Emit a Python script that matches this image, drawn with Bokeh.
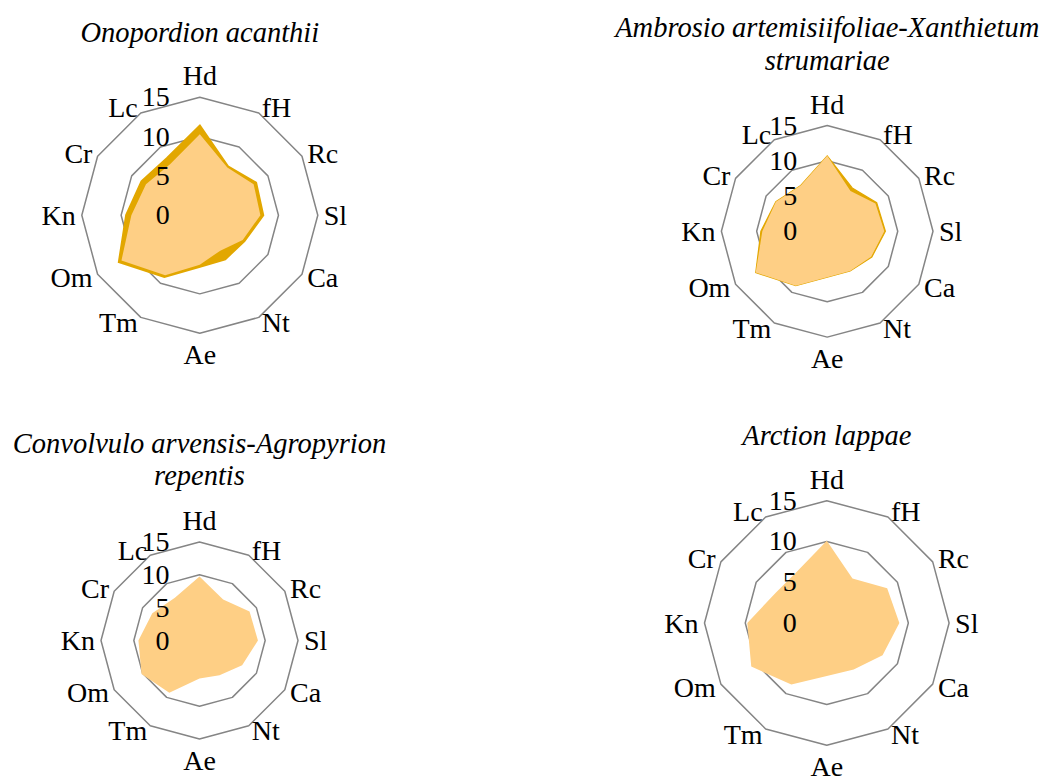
import numpy as np
from bokeh.plotting import figure
from bokeh.layouts import gridplot
from bokeh.models import Range1d
from bokeh.core.properties import value
from bokeh.embed import file_html
from bokeh.resources import INLINE

# ---------------- data ----------------
axis_labels = ["Hd", "fH", "Rc", "Sl", "Ca", "Nt", "Ae", "Tm", "Om", "Kn", "Cr", "Lc"]
tick_values = [0, 5, 10, 15]
tick_labels = ["0", "5", "10", "15"]
ring_values = [10, 15]
axis_max = 15

titles = [
    ["Onopordion acanthii"],
    ["Ambrosio artemisiifoliae-Xanthietum", "strumariae"],
    ["Convolvulo arvensis-Agropyrion", "repentis"],
    ["Arction lappae"],
]

# series drawn underneath (dark gold)
onopordion_dark = [11.3, 7.1, 8.2, 8.0, 6.5, 6.4, 6.5, 9.0, 11.8, 9.3, 8.5, 8.3]
ambrosio_dark = [10.7, 7.1, 8.1, 8.25, 7.3, 6.5, 6.5, 8.9, 11.7, 9.4, 8.4, 7.5]
# series drawn on top (light orange)
onopordion_light = [10.3, 7.0, 7.9, 7.7, 6.3, 5.2, 6.3, 8.8, 11.5, 8.7, 7.9, 7.5]
ambrosio_light = [10.7, 6.6, 7.9, 8.1, 7.2, 6.5, 6.5, 8.9, 11.7, 9.2, 8.4, 7.5]
convolvulo_light = [9.75, 7.2, 8.8, 8.9, 7.5, 6.1, 5.8, 9.2, 10.2, 9.3, 8.3, 7.5]
arction_light = [10.1, 6.3, 8.55, 8.9, 7.9, 6.6, 6.5, 8.7, 10.7, 9.75, 7.3, 7.3]

dark_series = [onopordion_dark, ambrosio_dark, None, None]
light_series = [onopordion_light, ambrosio_light, convolvulo_light, arction_light]

# ---------------- styling / layout ----------------
DARK = "#E2A700"
LIGHT = "#FECF85"
GRID = "#858585"
FONT = "Liberation Serif"
LABEL_SIZE = "28px"
TITLE_SIZE = "28.5px"

W, H = 523, 391
# chart centre (px inside each figure) and outer-ring radius (px)
centres = [(199.3, 214.7), (303.7, 230.8), (199.0, 249.0), (303.3, 231.5)]
radii = [118.0, 105.8, 98.5, 122.3]
dark_widths = [3.0, 1.2, 0, 0]
# title baselines, px relative to the chart centre
title_offsets = [[-183], [-204, -171], [-197, -165], [-187.5]]

theta = np.deg2rad(90 - 30 * np.arange(len(axis_labels)))
cos_t, sin_t = np.cos(theta), np.sin(theta)


def polar(vals):
    v = np.asarray(vals, dtype=float)
    return list(v * cos_t), list(v * sin_t)


figs = []
for i in range(4):
    cx, cy = centres[i]
    k = axis_max / radii[i]
    p = figure(width=W, height=H, output_backend="svg", toolbar_location=None,
               x_range=Range1d(-cx * k, (W - cx) * k),
               y_range=Range1d(-(H - cy) * k, cy * k),
               min_border=0, outline_line_color=None)
    p.axis.visible = False
    p.grid.visible = False
    p.background_fill_color = "white"
    p.border_fill_color = "white"

    for rv in ring_values:
        xs, ys = polar([rv] * len(axis_labels))
        p.patch(xs, ys, fill_color=None, line_color=GRID, line_width=1.5)

    if dark_series[i] is not None:
        xs, ys = polar(dark_series[i])
        p.patch(xs, ys, fill_color=DARK, line_color=DARK,
                line_width=dark_widths[i], line_join="miter")

    xs, ys = polar(light_series[i])
    p.patch(xs, ys, fill_color=LIGHT, line_color=None)

    # radial-axis tick labels
    p.text(x=[0] * len(tick_values), y=tick_values, text=tick_labels,
           x_offset=-30, text_align="right", text_baseline="middle",
           text_font=value(FONT), text_font_size=LABEL_SIZE, text_color="black")

    # category labels just outside outer ring
    lx, ly = polar([axis_max] * len(axis_labels))
    gap = 6
    aligns, bases = [], []
    for c, s in zip(cos_t, sin_t):
        aligns.append("left" if c > 0.01 else ("right" if c < -0.01 else "center"))
        bases.append("bottom" if s > 0.99 else ("top" if s < -0.99 else "middle"))
    src = dict(x=lx, y=ly, text=axis_labels,
               xo=list(gap * cos_t), yo=list(-gap * sin_t),
               align=aligns, base=bases)
    p.text(x="x", y="y", text="text", x_offset="xo", y_offset="yo",
           text_align="align", text_baseline="base", source=src,
           text_font=value(FONT), text_font_size=LABEL_SIZE, text_color="black")

    # title
    for line, off in zip(titles[i], title_offsets[i]):
        p.text(x=[0], y=[0], text=[line], y_offset=off,
               text_align="center", text_baseline="alphabetic",
               text_font=value(FONT), text_font_size=TITLE_SIZE,
               text_font_style="italic", text_color="black")
    figs.append(p)

grid = gridplot([[figs[0], figs[1]], [figs[2], figs[3]]], toolbar_location=None)

with open("out.html", "w") as f:
    f.write(file_html(grid, INLINE))
